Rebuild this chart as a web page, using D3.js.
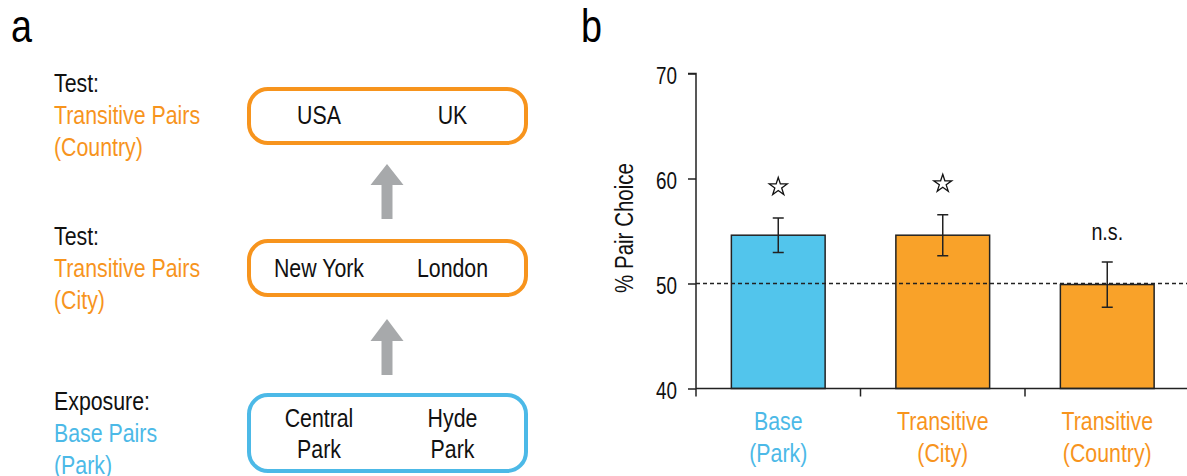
<!DOCTYPE html>
<html>
<head>
<meta charset="utf-8">
<script src="https://cdn.jsdelivr.net/npm/d3@7"></script>
<style>
  html, body { margin: 0; padding: 0; background: #fff; }
  svg { display: block; }
  text { font-family: "Liberation Sans", Arial, sans-serif; }
</style>
</head>
<body>
<svg id="fig" width="1187" height="476"></svg>
<script>
// ---- data ----
const categories = ["Base (Park)", "Transitive (City)", "Transitive (Country)"];
const categoryLines = [["Base", "(Park)"], ["Transitive", "(City)"], ["Transitive", "(Country)"]];
const pairChoice = [54.6, 54.6, 49.9];        // mean % pair choice
const pairChoiceSE = [1.65, 1.95, 2.15];      // standard error
const significance = ["star", "star", "n.s."];
const yTicks = [40, 50, 60, 70];
const chanceLevel = 50;

// panel a: design of the experiment, top to bottom
const stageHeads = ["Test:", "Test:", "Exposure:"];
const stageNames = [["Transitive Pairs", "(Country)"], ["Transitive Pairs", "(City)"], ["Base Pairs", "(Park)"]];
const stageItems = [[["USA"], ["UK"]], [["New York"], ["London"]], [["Central", "Park"], ["Hyde", "Park"]]];
const stageKinds = ["transitive", "transitive", "base"];

const ORANGE_TEXT = "#f7941d";
const BLUE_TEXT = "#4cb9e7";
const colorFill = { base: "#52c5ec", transitive: "#f9a229" };
const colorText = { base: BLUE_TEXT, transitive: ORANGE_TEXT };
const barKinds = ["base", "transitive", "transitive"];

const svg = d3.select("#fig");

// ---- panel letters ----
svg.append("text").attr("x", 11).attr("y", 42).attr("font-size", 46).text("a");
svg.append("text").attr("x", 581).attr("y", 42).attr("font-size", 46).text("b");

// ---- panel a ----
const pa = svg.append("g");
const boxes = [
  { y0: 89, y1: 143, base: 124 },
  { y0: 241, y1: 295, base: 276.5 },
  { y0: 395, y1: 471, base: 426.5 }
];
const labelBase = [92, 245, 410];
const lineH = 32;
const itemCols = [319, 452.5];

stageHeads.forEach((h, i) => {
  const g = pa.append("g");
  g.append("text").attr("x", 54).attr("y", labelBase[i]).attr("font-size", 26).attr("fill", "#111").text(h);
  stageNames[i].forEach((s, j) => {
    g.append("text").attr("x", 54).attr("y", labelBase[i] + lineH * (j + 1))
      .attr("font-size", 26).attr("fill", colorText[stageKinds[i]]).text(s);
  });
  const b = boxes[i];
  g.append("rect").attr("x", 249).attr("y", b.y0).attr("width", 277).attr("height", b.y1 - b.y0)
    .attr("rx", 19).attr("ry", 19).attr("fill", "none")
    .attr("stroke", stageKinds[i] === "base" ? BLUE_TEXT : ORANGE_TEXT).attr("stroke-width", 4);
  stageItems[i].forEach((lines, c) => {
    lines.forEach((t, k) => {
      g.append("text").attr("x", itemCols[c]).attr("y", b.base + k * 31.5)
        .attr("text-anchor", "middle").attr("font-size", 26).attr("fill", "#111").text(t);
    });
  });
});

// upward arrows between stages
const arrows = [{ tip: 164, neck: 185, tail: 219 }, { tip: 319, neck: 341, tail: 375 }];
arrows.forEach(a => {
  const cx = 387, hw = 16.5, sw = 5.5;
  pa.append("path")
    .attr("d", `M${cx},${a.tip} L${cx + hw},${a.neck} L${cx + sw},${a.neck} L${cx + sw},${a.tail} L${cx - sw},${a.tail} L${cx - sw},${a.neck} L${cx - hw},${a.neck} Z`)
    .attr("fill", "#a7a9ab");
});

// ---- panel b: bar chart ----
const x0 = 696, yTop = 73.5, yBot = 388.5;
const step = 164.5;
const x = d3.scaleBand().domain(categories)
  .range([x0, x0 + step * categories.length])
  .paddingInner(0.43).paddingOuter(0.215);
const y = d3.scaleLinear().domain([40, 70]).range([yBot, yTop]);

const pb = svg.append("g");

// y axis
const yAxis = pb.append("g").attr("transform", `translate(${x0},0)`)
  .call(d3.axisLeft(y).tickValues(yTicks).tickSize(8).tickPadding(11).tickFormat(d3.format("d")));
yAxis.select(".domain").attr("stroke", "#222").attr("stroke-width", 1.5).attr("d", `M-8,${yTop}H0V${yBot}`);
yAxis.selectAll(".tick line").attr("stroke", "#222").attr("stroke-width", 1.5);
yAxis.selectAll(".tick text").attr("font-size", 23).attr("fill", "#111").attr("dy", "0.42em")
  .style("font-family", "'Liberation Sans', Arial, sans-serif");

pb.append("text")
  .attr("transform", `translate(633,228) rotate(-90)`)
  .attr("text-anchor", "middle").attr("font-size", 25).attr("fill", "#111")
  .text("% Pair Choice");

// bars
pb.selectAll("rect.bar").data(categories).join("rect")
  .attr("class", "bar")
  .attr("x", d => x(d)).attr("width", x.bandwidth())
  .attr("y", (d, i) => y(pairChoice[i]))
  .attr("height", (d, i) => yBot - y(pairChoice[i]))
  .attr("fill", (d, i) => colorFill[barKinds[i]])
  .attr("stroke", "#222").attr("stroke-width", 1.5);

// chance level
pb.append("line").attr("x1", x0).attr("x2", 1187)
  .attr("y1", y(chanceLevel)).attr("y2", y(chanceLevel))
  .attr("stroke", "#222").attr("stroke-width", 1.3).attr("stroke-dasharray", "4,3");

// x axis with ticks at category boundaries
pb.append("line").attr("x1", x0).attr("x2", 1187).attr("y1", yBot).attr("y2", yBot)
  .attr("stroke", "#222").attr("stroke-width", 1.5);
d3.range(categories.length + 1).forEach(i => {
  const tx = x0 + x.step() * i;
  pb.append("line").attr("x1", tx).attr("x2", tx).attr("y1", yBot).attr("y2", yBot + 8)
    .attr("stroke", "#222").attr("stroke-width", 1.5);
});

// error bars, significance marks and category labels
const cap = 5.5;
categories.forEach((c, i) => {
  const cx = x(c) + x.bandwidth() / 2;
  const hi = y(pairChoice[i] + pairChoiceSE[i]);
  const lo = y(pairChoice[i] - pairChoiceSE[i]);
  pb.append("path")
    .attr("d", `M${cx},${hi}V${lo}M${cx - cap},${hi}H${cx + cap}M${cx - cap},${lo}H${cx + cap}`)
    .attr("stroke", "#222").attr("stroke-width", 1.5).attr("fill", "none");
  if (significance[i] === "star") {
    pb.append("path")
      .attr("d", d3.symbol(d3.symbolStar, 100)())
      .attr("transform", `translate(${cx},${hi - 31})`)
      .attr("fill", "#fff").attr("stroke", "#111").attr("stroke-width", 1.3);
  } else {
    pb.append("text").attr("x", cx).attr("y", hi - 22)
      .attr("text-anchor", "middle").attr("font-size", 24).attr("fill", "#111")
      .text(significance[i]);
  }
  categoryLines[i].forEach((t, k) => {
    pb.append("text").attr("x", cx).attr("y", 430 + k * 32)
      .attr("text-anchor", "middle").attr("font-size", 26)
      .attr("fill", colorText[barKinds[i]]).text(t);
  });
});

// condensed lettering: squeeze every label horizontally
svg.selectAll("text").each(function () {
  const w = this.getComputedTextLength();
  this.setAttribute("textLength", (w * 0.82).toFixed(2));
  this.setAttribute("lengthAdjust", "spacingAndGlyphs");
});
</script>
</body>
</html>
